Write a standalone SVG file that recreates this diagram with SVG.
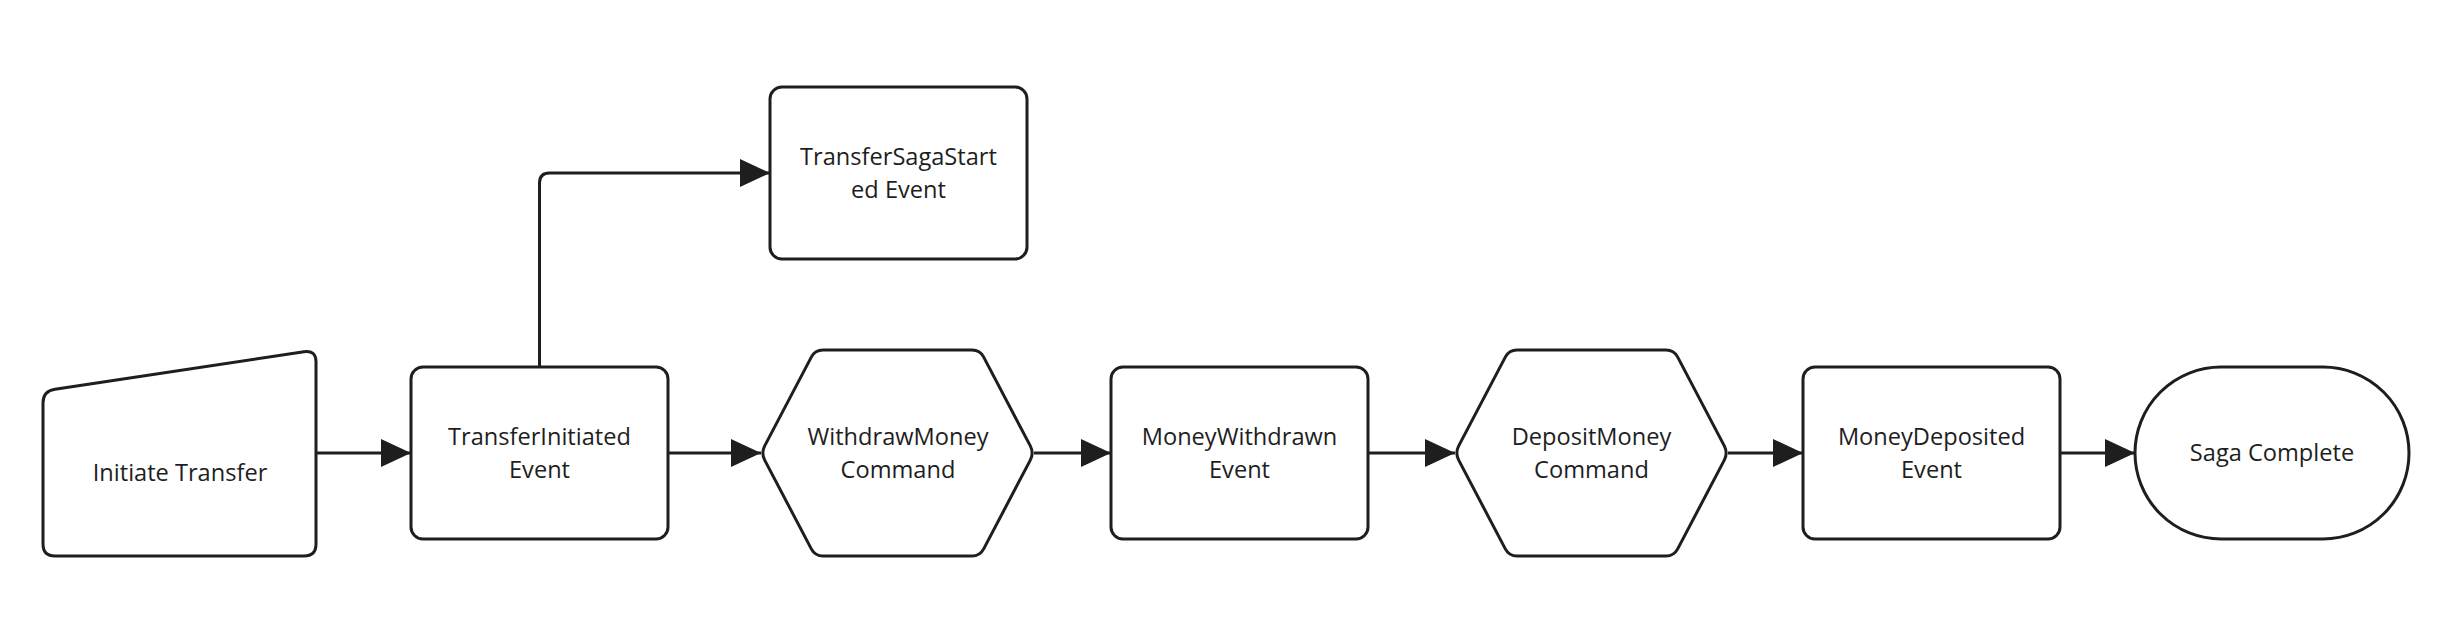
<svg xmlns="http://www.w3.org/2000/svg" xmlns:xlink="http://www.w3.org/1999/xlink" width="2437" height="641" viewBox="0 0 2437 641">
<style>
.shape{fill:#ffffff;stroke:#1e1e1e;stroke-width:3;stroke-linejoin:round}
.lbl{font-family:"Open Sans","Noto Sans","Liberation Sans",sans-serif;font-size:23.6px;fill:#1e1e1e;text-anchor:middle}
.conn{fill:none;stroke:#1e1e1e;stroke-width:3}
</style>
<defs>
<marker id="arrow" markerUnits="userSpaceOnUse" markerWidth="30" markerHeight="28" refX="30" refY="14" orient="auto">
<path d="M0,0 L30,14 L0,28 Z" fill="#1e1e1e"/>
</marker>
<path id="hex" d="M -132.8,-7.1 L -86.2,-95.9 Q -82.5,-103 -74.5,-103 L 74.5,-103 Q 82.5,-103 86.2,-95.9 L 132.8,-7.1 Q 136.5,0 132.8,7.1 L 86.2,95.9 Q 82.5,103 74.5,103 L -74.5,103 Q -82.5,103 -86.2,95.9 L -132.8,7.1 Q -136.5,0 -132.8,-7.1 Z"/>
</defs>
<rect width="2437" height="641" fill="#ffffff"/>
<g id="connectors">
<line class="conn" x1="316" y1="453" x2="411" y2="453" marker-end="url(#arrow)"/>
<line class="conn" x1="668" y1="453" x2="761" y2="453" marker-end="url(#arrow)"/>
<line class="conn" x1="1034" y1="453" x2="1111" y2="453" marker-end="url(#arrow)"/>
<line class="conn" x1="1368" y1="453" x2="1455" y2="453" marker-end="url(#arrow)"/>
<line class="conn" x1="1728" y1="453" x2="1803" y2="453" marker-end="url(#arrow)"/>
<line class="conn" x1="2060" y1="453" x2="2135" y2="453" marker-end="url(#arrow)"/>
<path class="conn" d="M539.5,367 L539.5,183 Q539.5,173 549.5,173 L770,173" marker-end="url(#arrow)"/>
</g>
<g id="initiate-transfer">
<path class="shape" d="M43,403 Q43,391 55,389.2 L304,351.8 Q316,350 316,362 L316,544 Q316,556 304,556 L55,556 Q43,556 43,544 Z"/>
<text class="lbl" x="180" y="481">Initiate Transfer</text>
</g>
<g id="transfer-initiated-event">
<rect class="shape" x="411" y="367" width="257" height="172" rx="12"/>
<text class="lbl" x="539.5" y="445">TransferInitiated</text>
<text class="lbl" x="539.5" y="478">Event</text>
</g>
<g id="transfer-saga-started-event">
<rect class="shape" x="770" y="87" width="257" height="172" rx="12"/>
<text class="lbl" x="898.5" y="165">TransferSagaStart</text>
<text class="lbl" x="898.5" y="198">ed Event</text>
</g>
<g id="withdraw-money-command">
<use xlink:href="#hex" class="shape" transform="translate(897.5,453)"/>
<text class="lbl" x="898" y="445">WithdrawMoney</text>
<text class="lbl" x="898" y="478">Command</text>
</g>
<g id="money-withdrawn-event">
<rect class="shape" x="1111" y="367" width="257" height="172" rx="12"/>
<text class="lbl" x="1239.5" y="445">MoneyWithdrawn</text>
<text class="lbl" x="1239.5" y="478">Event</text>
</g>
<g id="deposit-money-command">
<use xlink:href="#hex" class="shape" transform="translate(1591.5,453)"/>
<text class="lbl" x="1591.5" y="445">DepositMoney</text>
<text class="lbl" x="1591.5" y="478">Command</text>
</g>
<g id="money-deposited-event">
<rect class="shape" x="1803" y="367" width="257" height="172" rx="12"/>
<text class="lbl" x="1931.5" y="445">MoneyDeposited</text>
<text class="lbl" x="1931.5" y="478">Event</text>
</g>
<g id="saga-complete">
<rect class="shape" x="2135" y="367" width="274" height="172" rx="86" ry="86"/>
<text class="lbl" x="2272" y="461">Saga Complete</text>
</g>
</svg>
